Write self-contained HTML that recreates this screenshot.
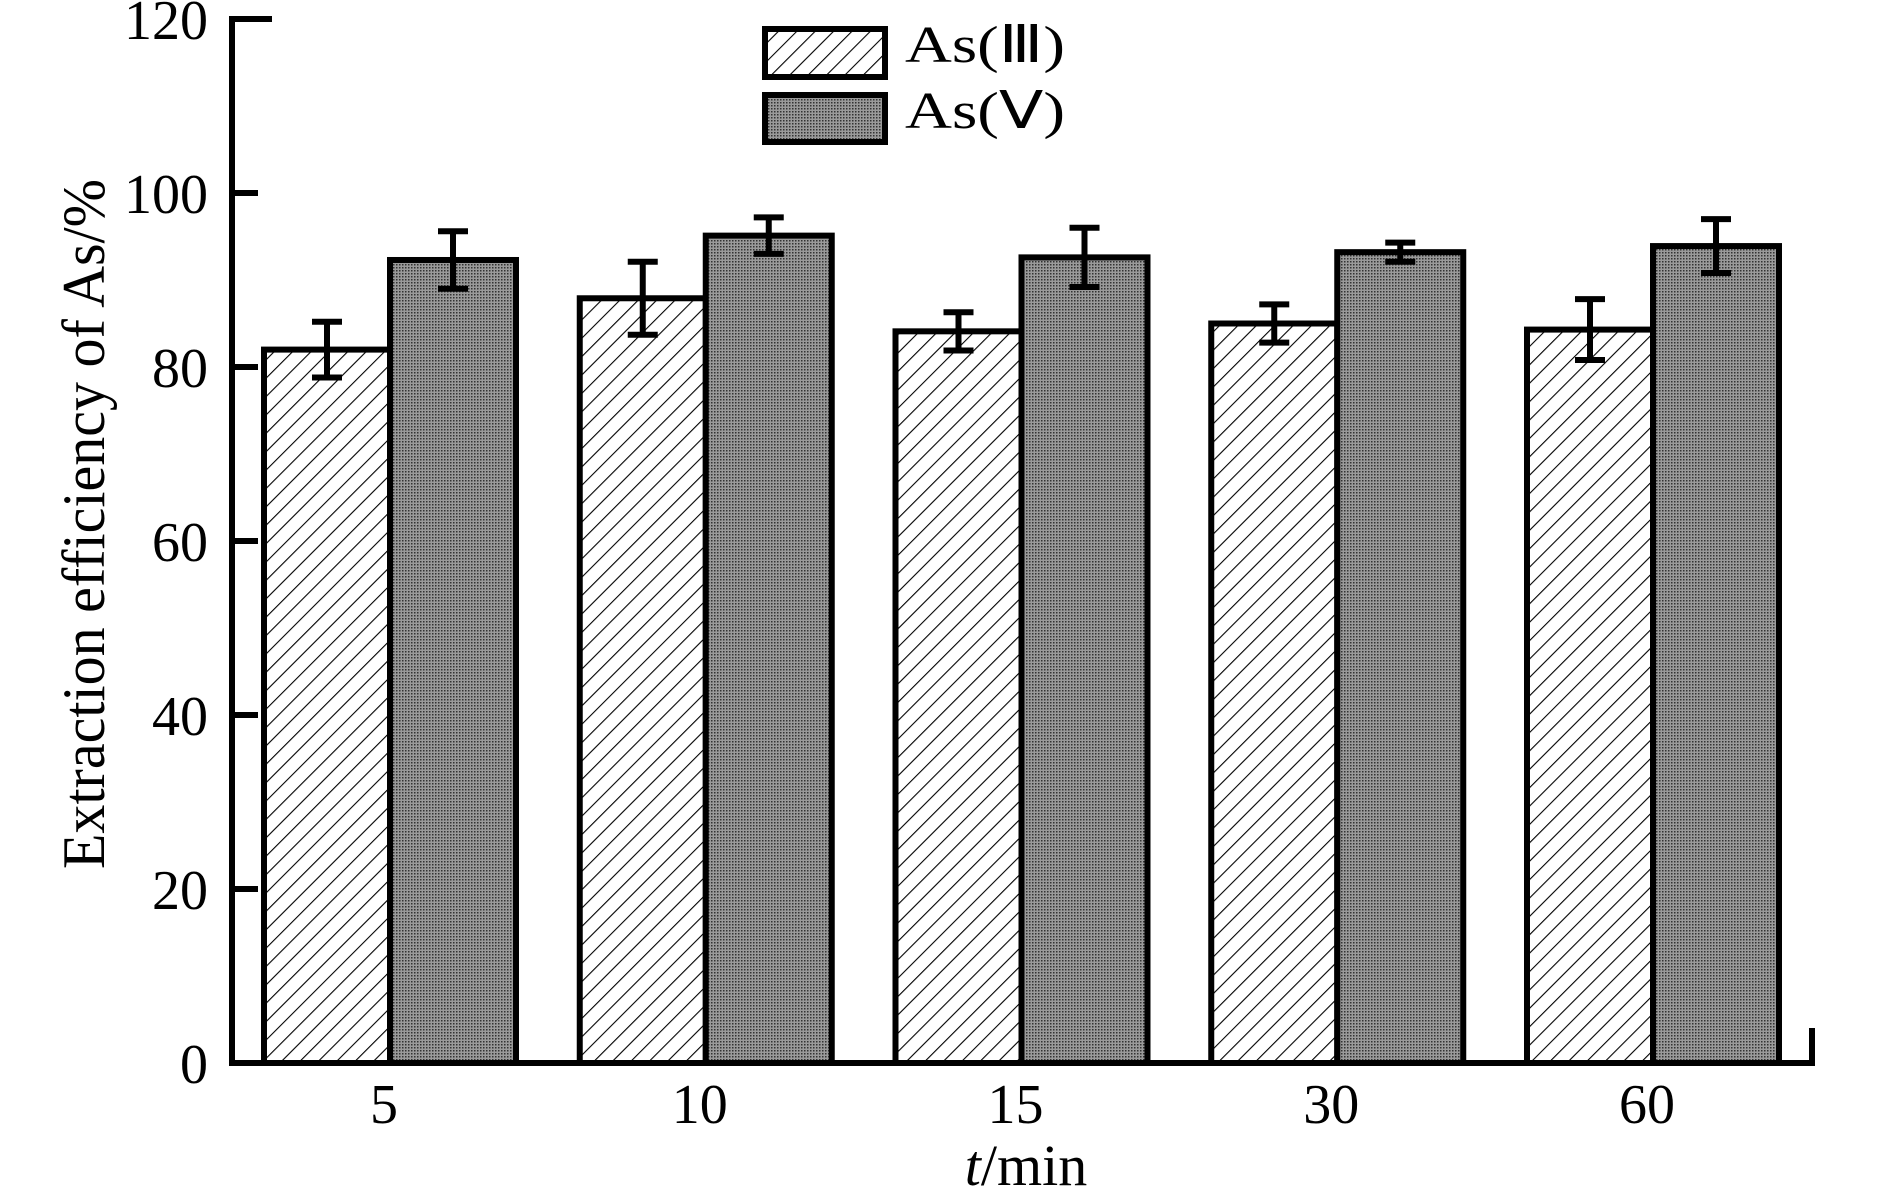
<!DOCTYPE html>
<html><head><meta charset="utf-8"><style>
html,body{margin:0;padding:0;background:#fff;}
svg{display:block;}
text{font-family:"Liberation Serif",serif;fill:#000;}
</style></head><body>
<svg id="chart" width="1890" height="1189" viewBox="0 0 1890 1189" xmlns="http://www.w3.org/2000/svg">
<defs>
<pattern id="hatch" patternUnits="userSpaceOnUse" width="13" height="13" patternTransform="rotate(45)">
<rect width="13" height="13" fill="#fff"/>
<line x1="0" y1="0" x2="0" y2="13" stroke="#000" stroke-width="2.2"/>
</pattern>
<pattern id="dots" patternUnits="userSpaceOnUse" width="3" height="3">
<rect width="3" height="3" fill="#9a9a9a"/>
<rect width="1.5" height="1.5" fill="#333"/>
</pattern>
</defs>
<g id="marks"></g>
<g>
<rect x="765" y="29" width="120" height="48" fill="url(#hatch)" stroke="#000" stroke-width="6"/>
<text x="905" y="62" font-size="52" textLength="160" lengthAdjust="spacingAndGlyphs">As(Ⅲ)</text>
<rect x="765" y="95" width="120" height="47" fill="url(#dots)" stroke="#000" stroke-width="6"/>
<text x="905" y="128" font-size="52" textLength="160" lengthAdjust="spacingAndGlyphs">As(Ⅴ)</text>
</g>
<text transform="translate(104,524) rotate(-90)" text-anchor="middle" font-size="60" textLength="690" lengthAdjust="spacingAndGlyphs">Extraction efficiency of As/%</text>
<text x="1026" y="1185" text-anchor="middle" font-size="58"><tspan font-style="italic">t</tspan>/min</text>
</svg>
<script>
const categories = ["5","10","15","30","60"];
const as3Values = [82, 87.9, 84.1, 85.0, 84.3];
const as3Errors = [3.2, 4.2, 2.2, 2.2, 3.5];
const as5Values = [92.3, 95.1, 92.6, 93.2, 93.9];
const as5Errors = [3.3, 2.1, 3.4, 1.1, 3.1];
const yTicks = [0, 20, 40, 60, 80, 100, 120];

const NS = "http://www.w3.org/2000/svg";
const g = document.getElementById("marks");
const y0 = 1063, yScale = 8.7;
function yPos(v){ return y0 - v * yScale; }
const firstCenter = 390, step = 315.75, barW = 126;
function xCenter(i){ return firstCenter + i * step; }
function mk(tag, attrs){ const e = document.createElementNS(NS, tag); for (const k in attrs) e.setAttribute(k, attrs[k]); g.appendChild(e); return e; }

// bars
categories.forEach((c, i) => {
  const cx = xCenter(i);
  const b3 = mk("rect", {x: cx - barW, y: yPos(as3Values[i]), width: barW, height: yPos(0) - yPos(as3Values[i]), fill: "url(#hatch)", stroke: "#000", "stroke-width": 6});
  
  
  const b5 = mk("rect", {x: cx, y: yPos(as5Values[i]), width: barW, height: yPos(0) - yPos(as5Values[i]), fill: "url(#dots)", stroke: "#000", "stroke-width": 6});
  
  
});
// error bars
categories.forEach((c, i) => {
  const cx = xCenter(i);
  [[cx - barW/2, as3Values[i], as3Errors[i], 'as3'], [cx + barW/2, as5Values[i], as5Errors[i], 'as5']].forEach(([x, v, e, s]) => {
    const p = mk("path", {d: `M${x},${yPos(v+e)}V${yPos(v-e)}M${x-15},${yPos(v+e)}H${x+15}M${x-15},${yPos(v-e)}H${x+15}`, stroke: "#000", "stroke-width": 6, fill: "none"});
    
    
  });
});
// axes
const ax = mk("path", {d: `M272,${yPos(120)}H232V${y0}H1812V1028`, stroke: "#000", "stroke-width": 6, fill: "none"});


yTicks.forEach(t => {
  if (t > 0 && t < 120) {
    const tk = mk("line", {x1: 232, x2: 258, y1: yPos(t), y2: yPos(t), stroke: "#000", "stroke-width": 6});
    
    
  }
  const lb = mk("text", {x: 208, y: yPos(t) + 20, "text-anchor": "end", "font-size": 56});
  lb.textContent = t;
  
  
});
categories.forEach((c, i) => {
  const lb = mk("text", {x: xCenter(i) - 6, y: 1123, "text-anchor": "middle", "font-size": 56});
  lb.textContent = c;
  
  
});
</script>
</body></html>
